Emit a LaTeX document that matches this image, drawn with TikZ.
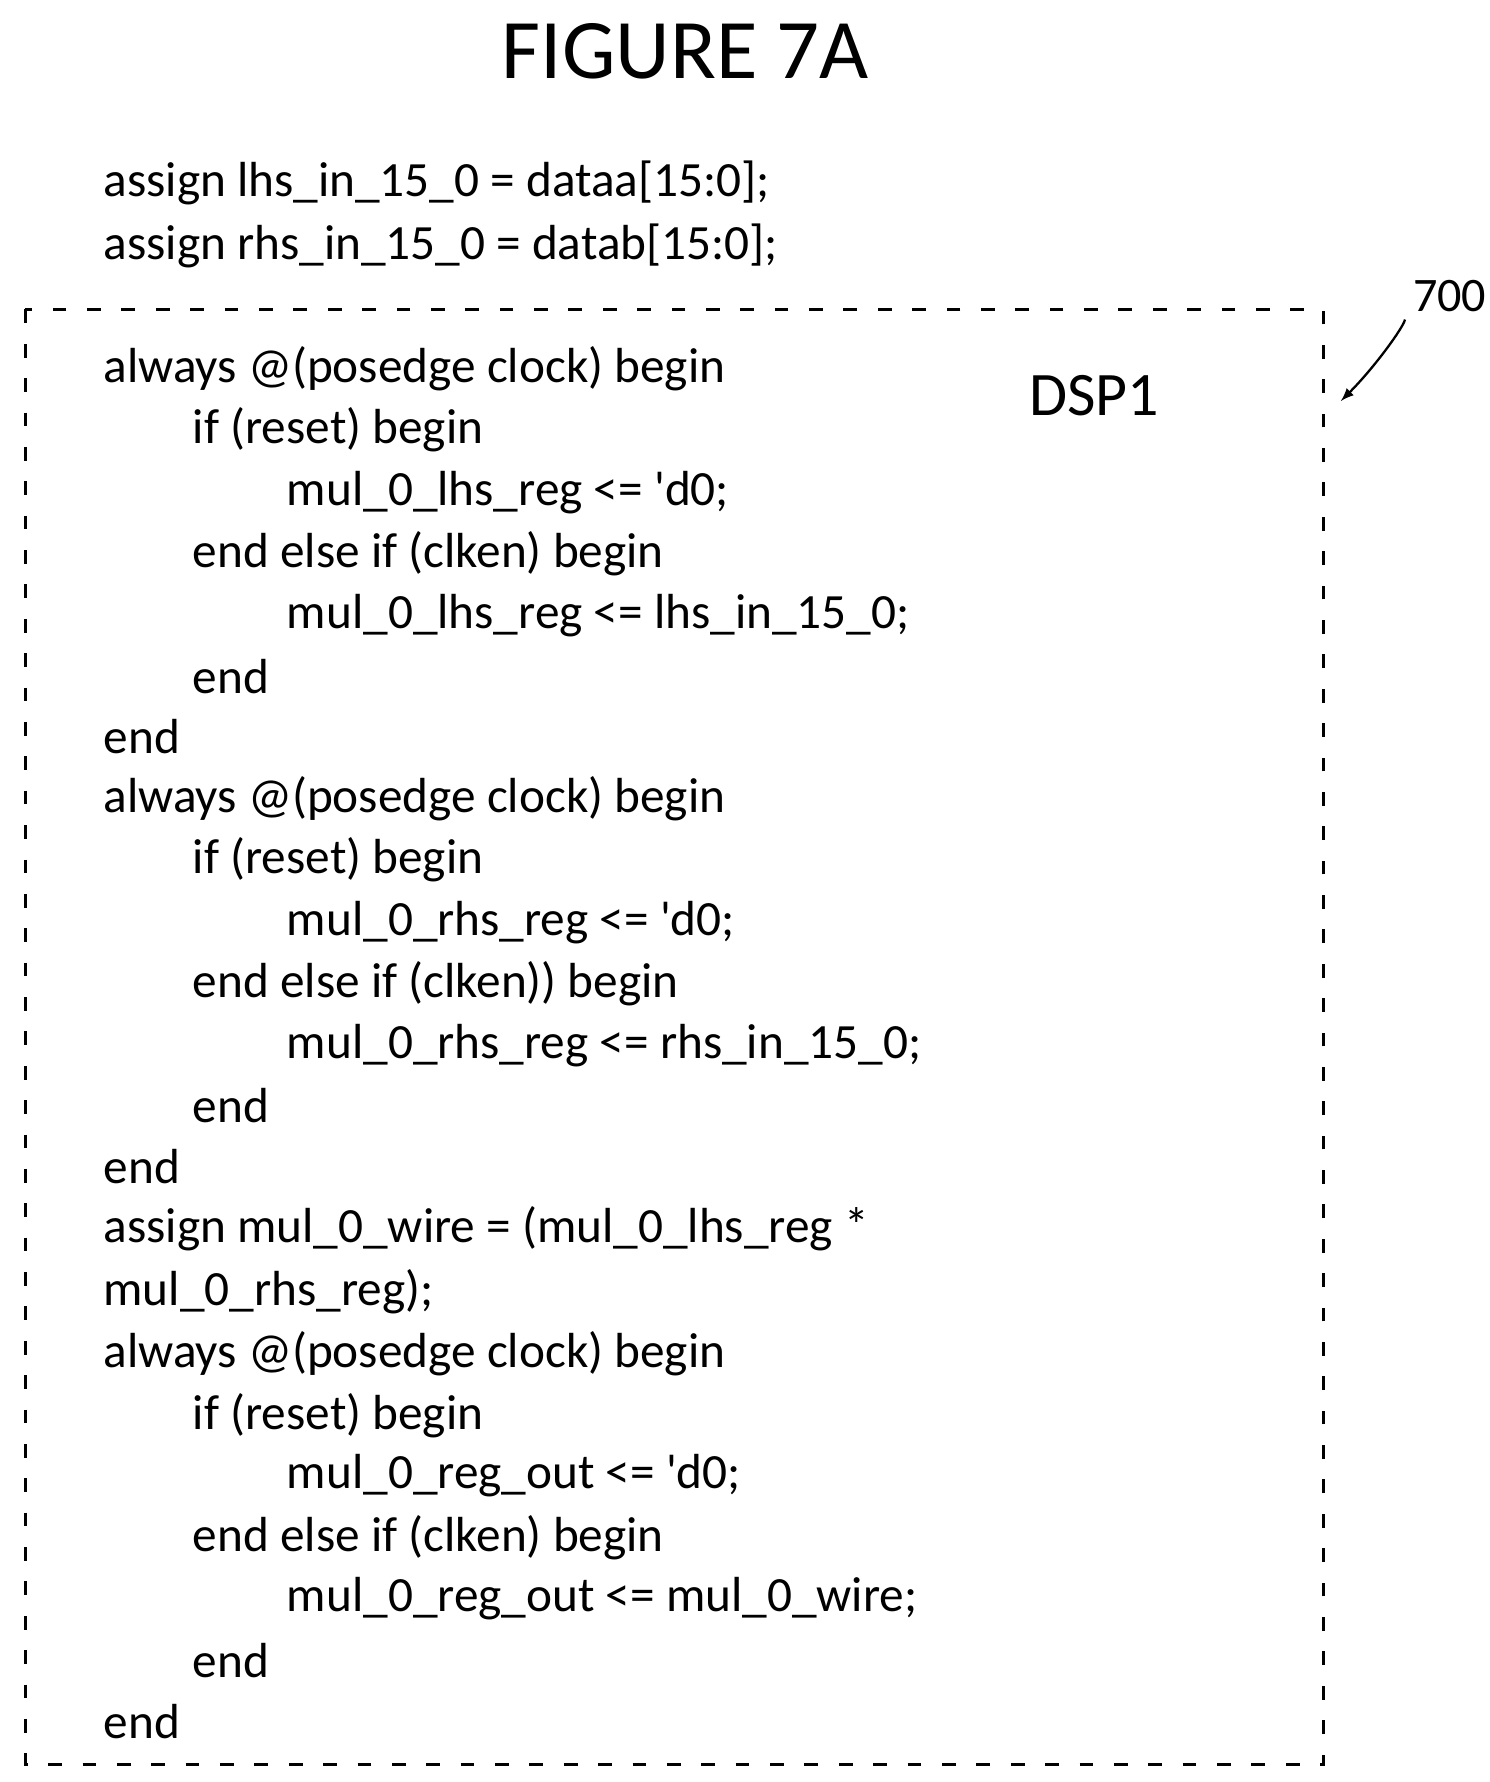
\documentclass[tikz,border=0pt]{standalone}
\usepackage{fontspec}
\setmainfont{Carlito}
\begin{document}
\begin{tikzpicture}[x=0.5pt,y=-0.5pt,
  code/.style={anchor=west,inner sep=0pt,font=\fontsize{21.5}{24}\selectfont},
  box/.style={draw,dashed,dash pattern=on 6pt off 9pt,line width=1.2pt}]
\useasboundingbox (0,0) rectangle (1300,1555);
\node[font=\fontsize{37}{40}\selectfont] (title) at (598,45) {FIGURE 7A};
\node[code] (a1) at (90,160) {assign lhs\_in\_15\_0 = dataa[15:0];};
\node[code] (a2) at (90,215) {assign rhs\_in\_15\_0 = datab[15:0];};
\draw[box] (22,270) rectangle (1155,1540);
\node[font=\fontsize{27}{30}\selectfont] (dsp) at (955,345) {DSP1};
\node[font=\fontsize{21}{24}\selectfont] (n700) at (1265,258) {700};
\coordinate (tip) at (1170,350);
\draw[-latex,line width=1pt] (n700.south west) .. controls (1225,285) and (1200,320) .. (tip);
\foreach \y/\x/\t in {
322/90/{always @(posedge clock) begin},
375/168/{if (reset) begin},
430/250/{mul\_0\_lhs\_reg <= \textquotesingle d0;},
483/168/{end else if (clken) begin},
537/250/{mul\_0\_lhs\_reg <= lhs\_in\_15\_0;},
590/168/{end},
643/90/{end},
697/90/{always @(posedge clock) begin},
750/168/{if (reset) begin},
805/250/{mul\_0\_rhs\_reg <= \textquotesingle d0;},
858/168/{end else if (clken)) begin},
912/250/{mul\_0\_rhs\_reg <= rhs\_in\_15\_0;},
965/168/{end},
1018/90/{end},
1072/90/{assign mul\_0\_wire = (mul\_0\_lhs\_reg *},
1127/90/{mul\_0\_rhs\_reg);},
1181/90/{always @(posedge clock) begin},
1235/168/{if (reset) begin},
1288/250/{mul\_0\_reg\_out <= \textquotesingle d0;},
1342/168/{end else if (clken) begin},
1395/250/{mul\_0\_reg\_out <= mul\_0\_wire;},
1449/168/{end},
1502/90/{end}}
  \node[code] (l\y) at (\x,\y) {\t};
\end{tikzpicture}
\end{document}
